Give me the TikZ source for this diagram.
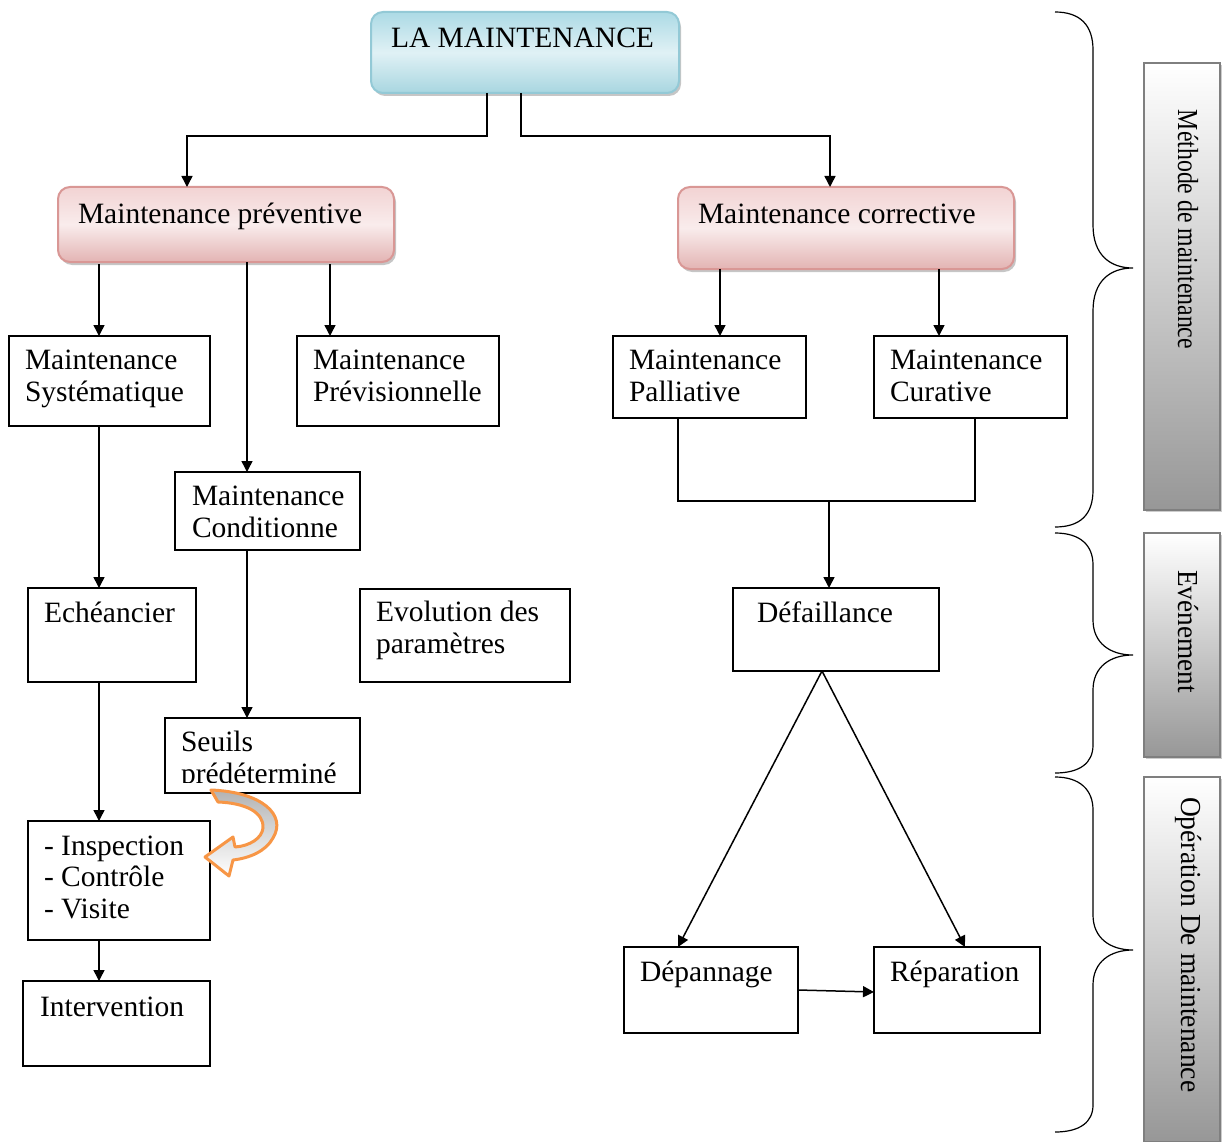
\documentclass[tikz,border=0pt]{standalone}
\usepackage{fontspec}
\setmainfont{Liberation Serif}
\usetikzlibrary{arrows.meta,calc,shadows}
\definecolor{topborder}{HTML}{93C9D6}
\definecolor{toptop}{HTML}{ACDAE5}
\definecolor{topmid}{HTML}{E0F1F5}
\definecolor{topbot}{HTML}{A8D6E0}
\definecolor{pinkborder}{HTML}{D99795}
\definecolor{pinktop}{HTML}{F2D3D3}
\definecolor{pinkmid}{HTML}{F9ECEC}
\definecolor{pinkbot}{HTML}{E3B4B3}
\definecolor{sideborder}{HTML}{7F7F7F}
\definecolor{sidebot}{HTML}{979797}
\definecolor{orangec}{HTML}{F79646}
\begin{document}
\begin{tikzpicture}[x=1pt,y=-1pt,
  box/.style={draw=black, line width=1.4pt, inner sep=0pt, outer sep=0pt, anchor=north west},
  headbox/.style={draw=topborder, line width=2pt, rounded corners=12pt, inner sep=0pt, outer sep=0pt, anchor=north west,
    top color=toptop, bottom color=topbot, middle color=topmid,
    drop shadow={shadow xshift=2pt, shadow yshift=-3pt, opacity=.45, fill=gray}},
  pinkbox/.style={draw=pinkborder, line width=2pt, rounded corners=12pt, inner sep=0pt, outer sep=0pt, anchor=north west,
    top color=pinktop, bottom color=pinkbot, middle color=pinkmid,
    drop shadow={shadow xshift=2pt, shadow yshift=-3pt, opacity=.45, fill=gray}},
  sidebox/.style={draw=sideborder, line width=1.5pt, inner sep=0pt, outer sep=0pt, anchor=north west,
    top color=white, bottom color=sidebot,
    drop shadow={shadow xshift=2pt, shadow yshift=-2pt, opacity=.4, fill=gray}},
  txt/.style={anchor=base west, inner sep=0pt, outer sep=0pt, font=\fontsize{29.5}{32}\selectfont},
  sidetxt/.style={anchor=west, inner sep=0pt, outer sep=0pt, rotate=-90, font=\fontsize{29}{32}\selectfont},
  ln/.style={line width=1.5pt},
  arr/.style={line width=1.5pt, -{Triangle[length=11pt,width=11pt]}},
  brace/.style={line width=1.2pt}
]
\useasboundingbox (0,0) rectangle (1226,1142);

% ---- boxes ----
\node[headbox, minimum width=308pt, minimum height=81pt] (top) at (371,12) {};
\node[pinkbox, minimum width=336pt, minimum height=75pt] (prev) at (58,187) {};
\node[pinkbox, minimum width=336pt, minimum height=82pt] (cor) at (678,187) {};
\node[box, minimum width=201pt, minimum height=90pt] (sys) at (9,336) {};
\node[box, minimum width=202pt, minimum height=90pt] (previs) at (297,336) {};
\node[box, minimum width=185pt, minimum height=78pt] (cond) at (175,472) {};
\node[box, minimum width=168pt, minimum height=94pt] (ech) at (28,588) {};
\node[box, minimum width=210pt, minimum height=93pt] (evol) at (360,589) {};
\node[box, minimum width=195pt, minimum height=75pt] (seuils) at (165,718) {};
\node[box, minimum width=182pt, minimum height=119pt] (insp) at (28,821) {};
\node[box, minimum width=187pt, minimum height=85pt] (interv) at (23,981) {};
\node[box, minimum width=193pt, minimum height=82pt] (pall) at (613,336) {};
\node[box, minimum width=193pt, minimum height=82pt] (cur) at (874,336) {};
\node[box, minimum width=206pt, minimum height=83pt] (def) at (733,588) {};
\node[box, minimum width=174pt, minimum height=86pt] (dep) at (624,947) {};
\node[box, minimum width=166pt, minimum height=86pt] (rep) at (874,947) {};
\node[sidebox, minimum width=76pt, minimum height=447pt] (side1) at (1144,63) {};
\node[sidebox, minimum width=76pt, minimum height=224pt] (side2) at (1144,533) {};
\node[sidebox, minimum width=76pt, minimum height=365pt] (side3) at (1144,777) {};

% ---- texts ----
\node[txt] (t-top) at (391,48) {LA MAINTENANCE};
\node[txt] (t-prev) at (78,223) {Maintenance préventive};
\node[txt] (t-cor) at (698,224) {Maintenance corrective};
\node[txt] (t-sys1) at (25,369) {Maintenance};
\node[txt] (t-sys2) at (25,401) {Systématique};
\node[txt] (t-pre1) at (313,369) {Maintenance};
\node[txt] (t-pre2) at (313,401) {Prévisionnelle};
\node[txt] (t-pal1) at (629,369) {Maintenance};
\node[txt] (t-pal2) at (629,401) {Palliative};
\node[txt] (t-cur1) at (890,369) {Maintenance};
\node[txt] (t-cur2) at (890,401) {Curative};
\node[txt] (t-con1) at (192,505) {Maintenance};
\node[txt] (t-con2) at (192,537) {Conditionne};
\node[txt] (t-ech) at (44,622) {Echéancier};
\node[txt] (t-evo1) at (376,621) {Evolution des};
\node[txt] (t-evo2) at (376,653) {paramètres};
\node[txt] (t-def) at (757,622) {Défaillance};
\begin{scope}
  \clip (seuils.north west) rectangle ($(seuils.south east)+(0,-11)$);
  \node[txt] (t-seu1) at (181,751) {Seuils};
  \node[txt] (t-seu2) at (181,783) {prédéterminé};
\end{scope}
\node[txt] (t-ins1) at (44,855) {- Inspection};
\node[txt] (t-ins2) at (44,886) {- Contrôle};
\node[txt] (t-ins3) at (44,918) {- Visite};
\node[txt] (t-int) at (40,1016) {Intervention};
\node[txt] (t-dep) at (640,981) {Dépannage};
\node[txt] (t-rep) at (890,981) {Réparation};

\node[sidetxt] (s1) at (1188,110) {\scalebox{0.82}[1]{Méthode de maintenance}};
\node[sidetxt] (s2) at (1188,570) {\scalebox{0.94}[1]{Evénement}};
\node[sidetxt] (s3) at (1188,797) {\scalebox{0.95}[1]{Opération De maintenance}};

% ---- connectors ----
\draw[arr] ($(top.south west)+(116,0)$) -- ++(0,43) -| ($(prev.north west)+(129,0)$);
\draw[arr] ($(top.south west)+(150,0)$) -- ++(0,43) -| ($(cor.north west)+(152,0)$);
\draw[arr] ($(prev.south west)+(41,2)$) -- ($(sys.north west)+(90,0)$);
\draw[arr] ($(prev.south west)+(189,0)$) -- ($(cond.north west)+(72,0)$);
\draw[arr] ($(prev.south west)+(272,2)$) -- ($(previs.north west)+(33,0)$);
\draw[arr] ($(cor.south west)+(42,0)$) -- ($(pall.north west)+(107,0)$);
\draw[arr] ($(cor.south west)+(261,0)$) -- ($(cur.north west)+(65,0)$);
\coordinate (j) at ($(def.north west)+(96,-87)$);
\draw[ln] ($(pall.south west)+(65,0)$) |- (j) -| ($(cur.south west)+(101,0)$);
\draw[arr] (j) -- ($(def.north west)+(96,0)$);
\draw[arr] ($(sys.south west)+(90,0)$) -- ($(ech.north west)+(71,0)$);
\draw[arr] ($(ech.south west)+(71,0)$) -- ($(insp.north west)+(71,0)$);
\draw[arr] ($(insp.south west)+(71,0)$) -- ($(interv.north west)+(76,0)$);
\draw[arr] ($(cond.south west)+(72,0)$) -- ($(seuils.north west)+(82,0)$);
\coordinate (dtip) at ($(def.south west)+(89,0)$);
\draw[arr] (dtip) -- ($(dep.north west)+(54,0)$);
\draw[arr] (dtip) -- ($(rep.north west)+(91,0)$);
\draw[arr] ($(dep.north east)+(0,43)$) -- ($(rep.north west)+(0,45)$);

% ---- orange curved arrow ----
\path[draw=orangec, line width=3pt, line join=round, top color=gray!60, bottom color=white]
  (211,790) .. controls (262,792) and (287,815) .. (273,838)
  .. controls (266,851) and (250,858) .. (233,860)
  -- (229,876) -- (205,857) -- (233,837) -- (235,847)
  .. controls (250,846) and (262,838) .. (263,828)
  .. controls (264,812) and (245,803) .. (218,802) -- cycle;

% ---- braces ----
\draw[brace] (1055,12) .. controls (1080,12) and (1093,25) .. (1093,50) -- (1093,225)
  .. controls (1093,255) and (1110,268) .. (1133,268)
  .. controls (1110,268) and (1093,281) .. (1093,311) -- (1093,490)
  .. controls (1093,515) and (1080,527) .. (1055,527);
\draw[brace] (1055,533) .. controls (1080,533) and (1093,545) .. (1093,565) -- (1093,620)
  .. controls (1093,643) and (1110,655) .. (1133,655)
  .. controls (1110,655) and (1093,667) .. (1093,690) -- (1093,745)
  .. controls (1093,763) and (1080,773) .. (1055,773);
\draw[brace] (1055,777) .. controls (1080,777) and (1093,790) .. (1093,810) -- (1093,915)
  .. controls (1093,938) and (1110,950) .. (1133,950)
  .. controls (1110,950) and (1093,962) .. (1093,985) -- (1093,1105)
  .. controls (1093,1122) and (1080,1132) .. (1055,1132);
\end{tikzpicture}
\end{document}
